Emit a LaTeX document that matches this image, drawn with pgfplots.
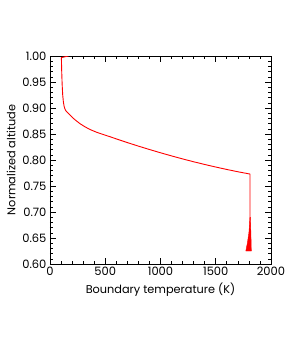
\documentclass[border=0pt]{standalone}
\usepackage{pgfplots}
\pgfplotsset{compat=1.18}
\usepackage{fontspec}
\setmainfont{Poppins}
\begin{document}
\begin{tikzpicture}
\path[use as bounding box] (-50pt,-82pt) rectangle (241pt,264pt);
\begin{axis}[
  at={(0pt,0pt)}, anchor=south west,
  scale only axis, width=221pt, height=208pt,
  xmin=0, xmax=2000, ymin=0.6, ymax=1.0,
  xtick={0,500,...,2000}, ytick={0.6,0.65,...,1.0},
  minor x tick num=4, minor y tick num=4,
  tick align=inside, major tick length=6pt, minor tick length=3pt,
  tick style={black, line width=0.6pt},
  axis line style={black, line width=0.8pt},
  /pgf/number format/assume math mode=true,
  xticklabel style={/pgf/number format/fixed, /pgf/number format/1000 sep={}},
  yticklabel style={/pgf/number format/fixed, /pgf/number format/fixed zerofill, /pgf/number format/precision=2},
  tick label style={font=\fontsize{11.5}{13}\selectfont},
  label style={font=\fontsize{11.3}{13}\selectfont},
  xlabel={Boundary temperature (K)},
  ylabel={Normalized altitude},
]
\addplot[red, line width=0.9pt, line join=round] coordinates {
(167,1.0) (103,0.997) (106,0.97) (110,0.945) (115,0.925) (121,0.912) (127,0.904) (133,0.8995) (140,0.896)
(150,0.8930) (167,0.8895) (190,0.8845) (212,0.8800) (240,0.8750) (273,0.8697) (315,0.8640)
(364,0.8585) (420,0.8535) (485,0.8488) (550,0.8443) (600,0.8406) (700,0.8335) (800,0.8267)
(900,0.8202) (1000,0.8139) (1100,0.8079) (1200,0.8021) (1300,0.7966) (1400,0.7914)
(1500,0.7865) (1600,0.7818) (1700,0.7774) (1810,0.7730) (1810,0.626)
};
\addplot[red, fill=red, line width=0.4pt] coordinates {
(1810,0.69) (1800,0.66) (1786,0.64) (1772,0.625) (1822,0.625) (1818,0.66) (1813,0.69)
};
\end{axis}
\end{tikzpicture}
\end{document}
